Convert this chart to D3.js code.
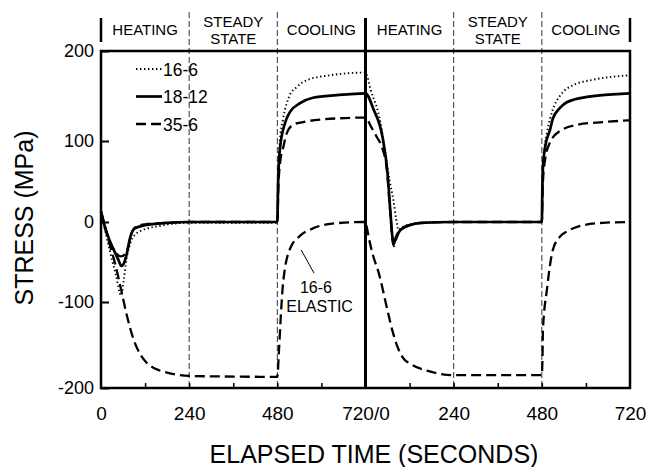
<!DOCTYPE html>
<html>
<head>
<meta charset="utf-8">
<script src="https://cdn.jsdelivr.net/npm/d3@7"></script>
<style>
  body { margin: 0; background: #fff; }
  svg { display: block; font-family: 'Liberation Sans', Arial, Helvetica, sans-serif; }
</style>
</head>
<body>
<svg id="chart" width="647" height="467"></svg>
<script>
// elapsed time runs over two cycles: 0-720 then 720-1440 (shown as 0-720 again)
// each point is [seconds, stress in MPa]
const s16_6 = [[0,13],[10,-8],[25,-38],[40,-65],[55,-92],[62,-72],[70,-45],[80,-26],[95,-15],[120,-9],[160,-5],[200,-2],[240,-1],[480,-1],
  [482,50],[487,101],[495,123],[514,151],[533,160],[563,168],[623,173],[720,176],
  [734,157],[761,120],[774,85],[786,50],[796,27],[803,5],[810,-10],[818,-7],[840,-3],[880,-1],[960,0],[1200,0],
  [1202,45],[1206,85],[1214,109],[1230,135],[1249,150],[1285,162],[1339,168],[1440,173]]

const s18_12 = [[0,13],[10,-5],[25,-25],[40,-40],[48,-48],[55,-55],[62,-52],[70,-40],[79,-20],[92,-8],[120,-4],[180,-1],[240,0],[480,0],
  [482,45],[487,90],[501,120],[514,132],[542,142],[577,148],[642,151],[720,153],
  [742,135],[766,105],[780,60],[788,11],[793,-18],[796,-28],[802,-20],[815,-10],[840,-4],[870,-1],[960,0],[1200,0],
  [1201,30],[1203,68],[1210,95],[1222,112],[1230,125],[1250,137],[1268,143],[1323,149],[1440,153]]

const s35_6 = [[0,13],[10,-5],[25,-25],[40,-38],[54,-43],[65,-40],[73,-33],[82,-16],[95,-6],[120,-3],[180,-1],[240,0],[480,0],
  [483,45],[488,75],[495,90],[506,109],[523,118],[550,121],[604,124],[720,126],
  [735,116],[750,105],[765,92],[778,65],[786,20],[792,-15],[797,-30],[803,-22],[815,-10],[840,-4],[880,-1],[960,0],[1200,0],
  [1203,50],[1210,80],[1222,98],[1249,111],[1296,118],[1366,121],[1440,123]]

const s16_6elastic = [[0,13],[20,-22],[40,-55],[55,-85],[70,-115],[90,-145],[110,-163],[125,-171],[150,-178],[180,-182],[240,-186],[480,-187],
  [484,-160],[489,-120],[494,-85],[500,-60],[508,-42],[518,-30],[540,-18],[577,-8],[630,-2],[720,0],
  [725,-10],[732,-26],[742,-44],[755,-62],[780,-110],[793,-133],[807,-152],[824,-166],[843,-172],[897,-181],[960,-185],[1200,-185],
  [1202,-160],[1203,-133],[1214,-84],[1230,-35],[1250,-18],[1268,-12],[1296,-6],[1366,-1],[1440,0]]

const seriesNames = ['16-6', '18-12', '35-6']
const phaseLabels = [['HEATING'], ['STEADY', 'STATE'], ['COOLING']]
const phaseBounds = [0, 240, 480, 720]
const xTickValues = [0, 240, 480, 720, 960, 1200, 1440]
const xTickLabels = ['0', '240', '480', '720/0', '240', '480', '720']
const xMinorTicks = [120, 240, 360, 480, 600, 840, 960, 1080, 1200, 1320]
const yTickValues = [-200, -100, 0, 100, 200]

const svg = d3.select('#chart')

const x = d3.scaleLinear().domain([0, 1440]).range([101, 630])
// the scanned axis is slightly uneven, so the stress scale is piecewise
const y = d3.scaleLinear().domain([-200, -100, 0, 100, 200]).range([388, 302, 222, 141, 51])

const styles = {
  '16-6': { width: 1.9, dash: '1.4,2.6' },
  '18-12': { width: 2.7, dash: null },
  '35-6': { width: 2.3, dash: '10,5' },
  'elastic': { width: 2.3, dash: '10,5' }
}

// phase separators
const cycles = [0, 720]
cycles.forEach(c => {
  ;[240, 480].forEach(p => {
    svg.append('line')
      .attr('x1', x(c + p)).attr('x2', x(c + p))
      .attr('y1', 12).attr('y2', y(-200))
      .attr('stroke', '#333').attr('stroke-width', 1)
      .attr('stroke-dasharray', '6,3')
  })
})
;[0, 1440].forEach(t => {
  svg.append('line')
    .attr('x1', x(t)).attr('x2', x(t))
    .attr('y1', 18).attr('y2', 42)
    .attr('stroke', '#000').attr('stroke-width', 2.5)
})
svg.append('line')
  .attr('x1', x(720)).attr('x2', x(720))
  .attr('y1', 18).attr('y2', y(-200))
  .attr('stroke', '#000').attr('stroke-width', 3)

// phase headers
cycles.forEach(c => {
  phaseLabels.forEach((lines, i) => {
    let cx = x(c + (phaseBounds[i] + phaseBounds[i + 1]) / 2)
    let t = svg.append('text')
      .attr('text-anchor', 'middle')
      .attr('font-size', 15)
    if (lines.length === 1) {
      t.append('tspan').attr('x', cx).attr('y', 35).text(lines[0])
    } else {
      t.append('tspan').attr('x', cx).attr('y', 26.5).text(lines[0])
      t.append('tspan').attr('x', cx).attr('y', 44).text(lines[1])
    }
  })
})

// frame
svg.append('rect')
  .attr('x', x(0)).attr('y', y(200))
  .attr('width', x(1440) - x(0)).attr('height', y(-200) - y(200))
  .attr('fill', 'none').attr('stroke', '#000').attr('stroke-width', 2.5)

// y axis, ticks pointing into the plot
svg.append('g')
  .attr('transform', `translate(${x(0)},0)`)
  .call(d3.axisLeft(y).tickValues(yTickValues).tickFormat(d => String(d))
    .tickSizeInner(-8).tickSizeOuter(0).tickPadding(7))
  .call(g => g.select('.domain').remove())
  .call(g => g.selectAll('line').attr('stroke-width', 2))
  .call(g => g.selectAll('text').attr('font-size', 18).attr('fill', '#000').attr('font-family', null))

// x axis labels
svg.append('g')
  .attr('transform', `translate(0,${y(-200)})`)
  .call(d3.axisBottom(x).tickValues(xTickValues).tickFormat((d, i) => xTickLabels[i]).tickSize(0).tickPadding(18.5))
  .call(g => g.select('.domain').remove())
  .call(g => g.selectAll('text').attr('font-size', 19).attr('fill', '#000').attr('font-family', null))

// minor ticks on the bottom edge
svg.append('g')
  .attr('transform', `translate(0,${y(-200)})`)
  .call(d3.axisBottom(x).tickValues(xMinorTicks).tickSizeInner(-5).tickSizeOuter(0).tickFormat(''))
  .call(g => g.select('.domain').remove())
  .call(g => g.selectAll('line').attr('stroke-width', 1.5))

// curves
const line = d3.line()
  .x(d => x(d[0]))
  .y(d => y(d[1]))
  .curve(d3.curveMonotoneX)

const drawOrder = [
  ['elastic', s16_6elastic],
  ['35-6', s35_6],
  ['18-12', s18_12],
  ['16-6', s16_6]
]
drawOrder.forEach(([key, data]) => {
  svg.append('path')
    .datum(data)
    .attr('d', line)
    .attr('fill', 'none')
    .attr('stroke', '#000')
    .attr('stroke-width', styles[key].width)
    .attr('stroke-dasharray', styles[key].dash)
})

// legend
const legend = svg.append('g')
seriesNames.forEach((name, i) => {
  let ly = 69 + i * 27.5
  legend.append('line')
    .attr('x1', 136).attr('x2', 162)
    .attr('y1', ly).attr('y2', ly)
    .attr('stroke', '#000')
    .attr('stroke-width', styles[name].width)
    .attr('stroke-dasharray', styles[name].dash)
  legend.append('text')
    .attr('x', 163).attr('y', ly + 6.5)
    .attr('font-size', 17.5)
    .text(name)
})

// elastic curve callout
svg.append('line')
  .attr('x1', x(545)).attr('y1', y(-35))
  .attr('x2', x(580)).attr('y2', y(-64))
  .attr('stroke', '#000').attr('stroke-width', 1)
svg.append('text')
  .attr('x', x(585)).attr('y', y(-89))
  .attr('text-anchor', 'middle').attr('font-size', 16)
  .text('16-6')
svg.append('text')
  .attr('x', x(595)).attr('y', y(-112))
  .attr('text-anchor', 'middle').attr('font-size', 16)
  .text('ELASTIC')

// axis titles
svg.append('text')
  .attr('x', 374).attr('y', 463)
  .attr('text-anchor', 'middle').attr('font-size', 25)
  .text('ELAPSED TIME (SECONDS)')
svg.append('text')
  .attr('transform', 'translate(33,218) rotate(-90)')
  .attr('text-anchor', 'middle').attr('font-size', 25)
  .text('STRESS (MPa)')
</script>
</body>
</html>
